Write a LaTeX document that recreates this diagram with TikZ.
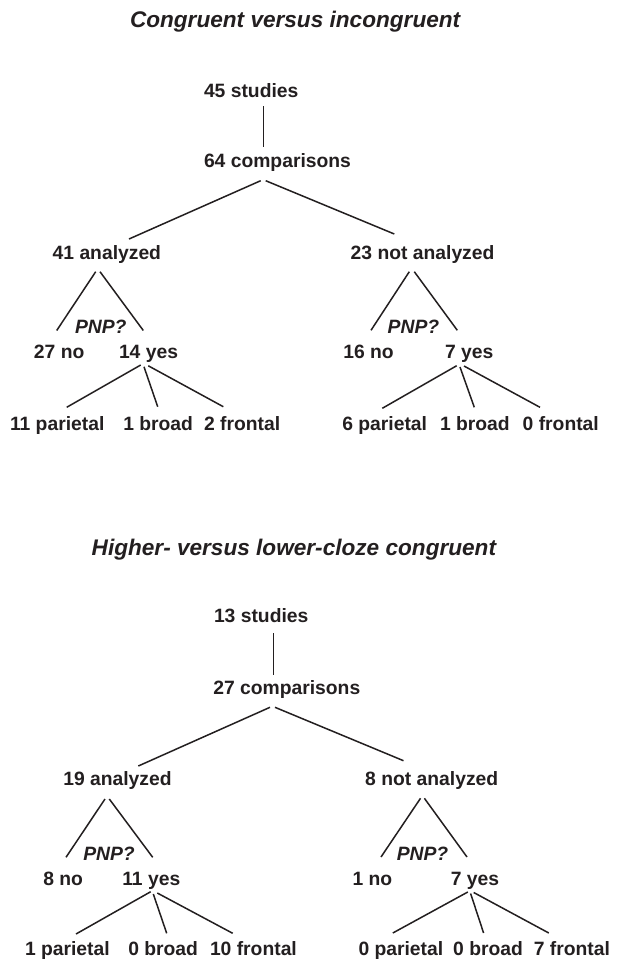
\documentclass[tikz,border=0pt]{standalone}
\usepackage{fontspec}
\usetikzlibrary{calc}
\newfontfamily\labfont{Liberation Sans}[FakeStretch=1.0]
\definecolor{ink}{HTML}{231F20}
\tikzset{
  lbl/.style={inner sep=0pt, outer sep=0pt, anchor=base west, text=ink,
    font=\labfont\bfseries\fontsize{19.3}{23}\selectfont},
  ttl/.style={inner sep=0pt, outer sep=0pt, anchor=base west, text=ink,
    font=\labfont\bfseries\itshape\fontsize{22.6}{27}\selectfont},
  pnp/.style={lbl, font=\labfont\bfseries\itshape\fontsize{19.3}{23}\selectfont},
  conn/.style={draw=ink, line width=1.5pt}
}
\begin{document}
\begin{tikzpicture}[x=1pt, y=-1pt]
\useasboundingbox[fill=white] (0,0) rectangle (619,962);

% ---------- Part 1 ----------
\node[ttl] (t1) at (130,27) {Congruent versus incongruent};
\node[lbl] (s1) at (204,97) {45 studies};
\node[lbl] (c1) at (204,167.3) {64 comparisons};
\node[lbl] (a1) at (52.7,259.3) {41 analyzed};
\node[lbl] (n1) at (350.7,259.3) {23 not analyzed};
\node[pnp] (pa1) at (75,333.3) {PNP?};
\node[pnp] (pn1) at (387.7,333.3) {PNP?};
\node[lbl] (an1) at (34,358.3) {27 no};
\node[lbl] (ay1) at (119,358.3) {14 yes};
\node[lbl] (nn1) at (343.3,358.3) {16 no};
\node[lbl] (ny1) at (445,358.3) {7 yes};
\node[lbl] (ap1) at (10,430.7) {11 parietal};
\node[lbl] (ab1) at (123.3,430.7) {1 broad};
\node[lbl] (af1) at (204,430.7) {2 frontal};
\node[lbl] (np1) at (342.3,430.7) {6 parietal};
\node[lbl] (nb1) at (440,430.7) {1 broad};
\node[lbl] (nf1) at (522.7,430.7) {0 frontal};

\draw[conn] ($(s1.base west)+(59.3,9)$) -- ($(c1.base west)+(59.3,-20.3)$);
\draw[conn] ($(c1.base west)+(56.7,13.4)$) -- ($(a1.base west)+(76.3,-20.3)$);
\draw[conn] ($(c1.base west)+(61.7,13.4)$) -- ($(n1.base west)+(43.6,-25.3)$);
\draw[conn] ($(a1.base west)+(43,12.4)$) -- ($(an1.base west)+(22.7,-27.8)$);
\draw[conn] ($(a1.base west)+(47.3,12.4)$) -- ($(ay1.base west)+(24.3,-27.8)$);
\draw[conn] ($(n1.base west)+(58.6,12.4)$) -- ($(nn1.base west)+(27.7,-28)$);
\draw[conn] ($(n1.base west)+(63.6,12.4)$) -- ($(ny1.base west)+(12.3,-28)$);
\draw[conn] ($(ay1.base west)+(21.7,6.7)$) -- ($(ap1.base west)+(56.7,-23.4)$);
\draw[conn] ($(ay1.base west)+(25,8.5)$) -- ($(ab1.base west)+(34.4,-24)$);
\draw[conn] ($(ay1.base west)+(29.3,7.5)$) -- ($(af1.base west)+(19.3,-24)$);
\draw[conn] ($(ny1.base west)+(11.7,7.4)$) -- ($(np1.base west)+(40,-22.4)$);
\draw[conn] ($(ny1.base west)+(15,8.7)$) -- ($(nb1.base west)+(34.3,-23.4)$);
\draw[conn] ($(ny1.base west)+(19,7.7)$) -- ($(nf1.base west)+(17.3,-23.4)$);

% ---------- Part 2 ----------
\node[ttl] (t2) at (91.7,555) {Higher- versus lower-cloze congruent};
\node[lbl] (s2) at (214,622.7) {13 studies};
\node[lbl] (c2) at (213.3,694) {27 comparisons};
\node[lbl] (a2) at (63.3,785.7) {19 analyzed};
\node[lbl] (n2) at (365.2,785.7) {8 not analyzed};
\node[pnp] (pa2) at (83.3,860) {PNP?};
\node[pnp] (pn2) at (396.8,860) {PNP?};
\node[lbl] (an2) at (43.3,885) {8 no};
\node[lbl] (ay2) at (122.3,885) {11 yes};
\node[lbl] (nn2) at (352.5,885) {1 no};
\node[lbl] (ny2) at (450.8,885) {7 yes};
\node[lbl] (ap2) at (25,955) {1 parietal};
\node[lbl] (ab2) at (128.3,955) {0 broad};
\node[lbl] (af2) at (210,955) {10 frontal};
\node[lbl] (np2) at (358.5,955) {0 parietal};
\node[lbl] (nb2) at (453.2,955) {0 broad};
\node[lbl] (nf2) at (533.8,955) {7 frontal};

\draw[conn] ($(s2.base west)+(59.3,10.6)$) -- ($(c2.base west)+(60,-19)$);
\draw[conn] ($(c2.base west)+(56.7,13.3)$) -- ($(a2.base west)+(75,-19.7)$);
\draw[conn] ($(c2.base west)+(61.7,13.3)$) -- ($(n2.base west)+(38.3,-25)$);
\draw[conn] ($(a2.base west)+(41.7,13.3)$) -- ($(an2.base west)+(22.7,-27.7)$);
\draw[conn] ($(a2.base west)+(46,13.3)$) -- ($(ay2.base west)+(30.4,-27.7)$);
\draw[conn] ($(n2.base west)+(55.3,12.6)$) -- ($(nn2.base west)+(28.5,-28)$);
\draw[conn] ($(n2.base west)+(59.2,12.6)$) -- ($(ny2.base west)+(16.2,-28)$);
\draw[conn] ($(ay2.base west)+(28.4,6.7)$) -- ($(ap2.base west)+(51,-21)$);
\draw[conn] ($(ay2.base west)+(31,9)$) -- ($(ab2.base west)+(38.4,-21.7)$);
\draw[conn] ($(ay2.base west)+(35,8)$) -- ($(af2.base west)+(22.7,-21.7)$);
\draw[conn] ($(ny2.base west)+(17,7)$) -- ($(np2.base west)+(34.3,-22)$);
\draw[conn] ($(ny2.base west)+(19.8,8.5)$) -- ($(nb2.base west)+(30.4,-22)$);
\draw[conn] ($(ny2.base west)+(22.9,7.5)$) -- ($(nf2.base west)+(15,-22)$);
\end{tikzpicture}
\end{document}
